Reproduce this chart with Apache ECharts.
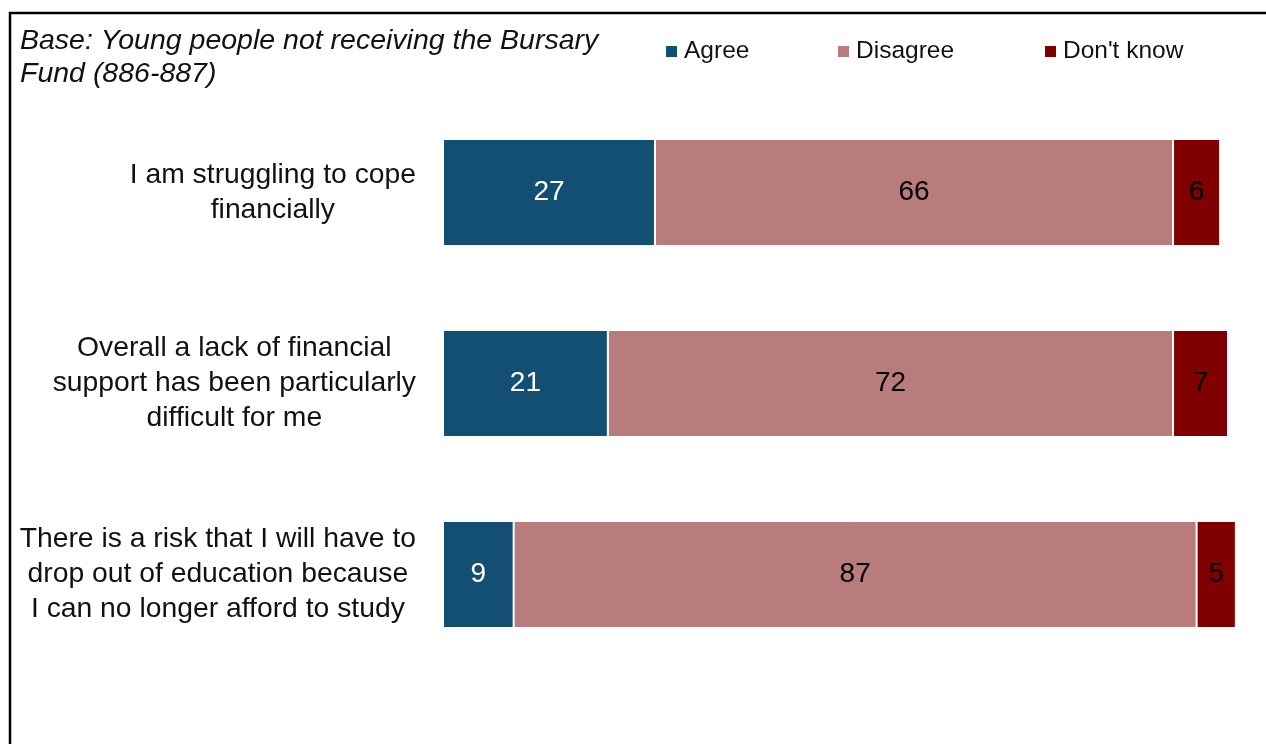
<!DOCTYPE html>
<html>
<head>
<meta charset="utf-8">
<title>Financial situation – young people not receiving the Bursary Fund</title>
<script src="https://cdn.jsdelivr.net/npm/echarts@6/dist/echarts.min.js"></script>
<style>
  html, body { margin: 0; padding: 0; background: #ffffff; }
  #chart { width: 1266px; height: 744px; }
</style>
</head>
<body>
<div id="chart"></div>
<script>
// Statements shown on the vertical axis (top to bottom)
const categories = [
  'I am struggling to cope\nfinancially',
  'Overall a lack of financial\nsupport has been particularly\ndifficult for me',
  'There is a risk that I will have to\ndrop out of education because\nI can no longer afford to study'
];

// Percentages per response
const agree = [27, 21, 9];
const disagree = [66, 72, 87];
const dontKnow = [6, 7, 5];

const seriesNames = ['Agree', 'Disagree', "Don't know"];
const seriesColors = ['#124f73', '#b97c7c', '#800000'];
const labelColors = ['#ffffff', '#000000', '#000000'];

const baseNote = 'Base: Young people not receiving the Bursary\nFund (886-887)';

const FONT = '"Liberation Sans", Arial, Helvetica, sans-serif';

const chart = echarts.init(document.getElementById('chart'), null, { renderer: 'canvas' });

function makeSeries(name, values, idx) {
  return {
    name: name,
    type: 'bar',
    stack: 'total',
    data: values,
    barWidth: 107,
    clip: false,
    itemStyle: {
      color: seriesColors[idx],
      borderColor: '#ffffff',
      borderWidth: 1
    },
    label: {
      show: true,
      position: 'inside',
      color: labelColors[idx],
      fontFamily: FONT,
      fontSize: 28
    },
    emphasis: { disabled: true }
  };
}

// One legend per item so each sits at its own spot along the top
const legendLefts = [664, 836, 1043];
const legends = seriesNames.map((name, i) => ({
  data: [name],
  left: legendLefts[i],
  top: 39,
  padding: 0,
  orient: 'horizontal',
  icon: 'rect',
  itemWidth: 13,
  itemHeight: 13,
  selectedMode: false,
  textStyle: {
    fontFamily: FONT,
    fontSize: 24.5,
    color: '#111111',
    padding: [0, 0, 0, 1]
  }
}));

const option = {
  backgroundColor: '#ffffff',
  animation: false,
  title: {
    text: baseNote,
    left: 15,
    top: 20,
    textStyle: {
      fontFamily: FONT,
      fontStyle: 'italic',
      fontWeight: 'normal',
      fontSize: 28.5,
      lineHeight: 33,
      color: '#111111'
    }
  },
  legend: legends,
  grid: {
    left: 443,
    right: 38,
    top: 97,
    bottom: 74,
    containLabel: false
  },
  xAxis: {
    type: 'value',
    min: 0,
    max: 100,
    show: false
  },
  yAxis: {
    type: 'category',
    data: categories,
    inverse: true,
    axisLine: { show: false },
    axisTick: { show: false },
    splitLine: { show: false },
    axisLabel: {
      margin: 27,
      align: 'right',
      formatter: function (value) {
        return value.split('\n').map(line => '{c|' + line + '}').join('\n');
      },
      rich: {
        c: {
          align: 'center',
          fontFamily: FONT,
          fontSize: 28.3,
          lineHeight: 35,
          color: '#111111'
        }
      }
    }
  },
  series: [
    makeSeries(seriesNames[0], agree, 0),
    makeSeries(seriesNames[1], disagree, 1),
    makeSeries(seriesNames[2], dontKnow, 2)
  ],
  graphic: [
    {
      type: 'polyline',
      silent: true,
      shape: { points: [[10, 744], [10, 13], [1266, 13]] },
      style: { stroke: '#000000', lineWidth: 2.5, fill: null }
    }
  ]
};

chart.setOption(option);
</script>
</body>
</html>
